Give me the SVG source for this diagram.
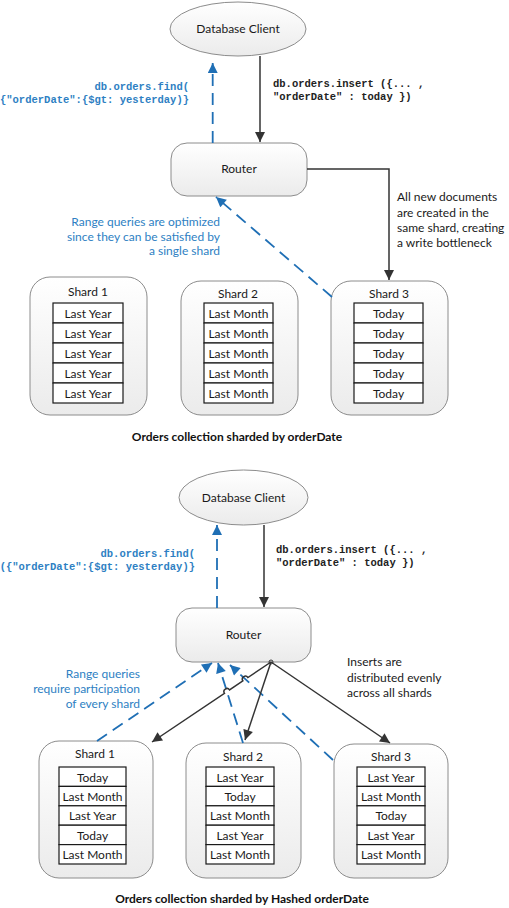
<svg xmlns="http://www.w3.org/2000/svg" width="509" height="908" viewBox="0 0 509 908">
<defs>
  <linearGradient id="g" x1="0" y1="0" x2="0" y2="1">
    <stop offset="0" stop-color="#ffffff"/>
    <stop offset="1" stop-color="#ebebeb"/>
  </linearGradient>
  <marker id="ab" viewBox="0 0 10 10" refX="10" refY="5" markerWidth="11" markerHeight="10" markerUnits="userSpaceOnUse" orient="auto">
    <path d="M0,0 L10,5 L0,10 Z" fill="#333"/>
  </marker>
  <marker id="au" viewBox="0 0 10 10" refX="10" refY="5" markerWidth="11" markerHeight="10" markerUnits="userSpaceOnUse" orient="auto">
    <path d="M0,0 L10,5 L0,10 Z" fill="#1f6fb5"/>
  </marker>
</defs>
<style>
  .node { fill: url(#g); stroke: #8c8c8c; stroke-width: 1; }
  .cell { fill: #fff; stroke: #1a1a1a; stroke-width: 1.2; }
  .t { font-family: Lato, "Liberation Sans", sans-serif; font-size: 12px; fill: #1a1a1a; }
  .c { text-anchor: middle; }
  .note { font-family: Lato, "Liberation Sans", sans-serif; font-size: 12px; fill: #1a1a1a; }
  .bnote { font-family: Lato, "Liberation Sans", sans-serif; font-size: 12px; fill: #2e7fc3; text-anchor: end; }
  .code { font-family: "Liberation Mono", monospace; font-size: 10.5px; font-weight: bold; fill: #222; }
  .bcode { font-family: "Liberation Mono", monospace; font-size: 10.5px; font-weight: bold; fill: #2e7fc3; text-anchor: end; }
  .title { font-family: Lato, "Liberation Sans", sans-serif; font-size: 12px; font-weight: bold; fill: #111; text-anchor: middle; }
  .blk { fill: none; stroke: #333; stroke-width: 1.5; marker-end: url(#ab); }
  .blu { fill: none; stroke: #1f6fb5; stroke-width: 1.8; stroke-dasharray: 12 7; marker-end: url(#au); }
</style>

<!-- ===== Top diagram ===== -->
<g id="client1">
  <ellipse class="node" cx="238" cy="29" rx="68" ry="27"/>
  <text class="t c" x="238" y="33">Database Client</text>
</g>
<g id="router1">
  <rect class="node" x="171" y="143" width="136" height="53" rx="16"/>
  <text class="t c" x="239" y="173">Router</text>
</g>
<g id="shard1a">
  <rect class="node" x="30" y="277" width="117" height="138" rx="20"/>
  <text class="t c" x="88" y="296">Shard 1</text>
  <rect class="cell" x="53" y="303" width="70" height="20"/>
  <rect class="cell" x="53" y="323" width="70" height="20"/>
  <rect class="cell" x="53" y="343" width="70" height="20"/>
  <rect class="cell" x="53" y="363" width="70" height="20"/>
  <rect class="cell" x="53" y="383" width="70" height="20"/>
  <text class="t c" x="88" y="318">Last Year</text>
  <text class="t c" x="88" y="338">Last Year</text>
  <text class="t c" x="88" y="358">Last Year</text>
  <text class="t c" x="88" y="378">Last Year</text>
  <text class="t c" x="88" y="398">Last Year</text>
</g>
<g id="shard2a">
  <rect class="node" x="181" y="281" width="117" height="134" rx="20"/>
  <text class="t c" x="238" y="298">Shard 2</text>
  <rect class="cell" x="204" y="303" width="69" height="20"/>
  <rect class="cell" x="204" y="323" width="69" height="20"/>
  <rect class="cell" x="204" y="343" width="69" height="20"/>
  <rect class="cell" x="204" y="363" width="69" height="20"/>
  <rect class="cell" x="204" y="383" width="69" height="20"/>
  <text class="t c" x="238.5" y="318">Last Month</text>
  <text class="t c" x="238.5" y="338">Last Month</text>
  <text class="t c" x="238.5" y="358">Last Month</text>
  <text class="t c" x="238.5" y="378">Last Month</text>
  <text class="t c" x="238.5" y="398">Last Month</text>
</g>
<g id="shard3a">
  <rect class="node" x="331" y="281" width="117" height="134" rx="20"/>
  <text class="t c" x="389" y="298">Shard 3</text>
  <rect class="cell" x="354" y="303" width="69" height="20"/>
  <rect class="cell" x="354" y="323" width="69" height="20"/>
  <rect class="cell" x="354" y="343" width="69" height="20"/>
  <rect class="cell" x="354" y="363" width="69" height="20"/>
  <rect class="cell" x="354" y="383" width="69" height="20"/>
  <text class="t c" x="388.5" y="318">Today</text>
  <text class="t c" x="388.5" y="338">Today</text>
  <text class="t c" x="388.5" y="358">Today</text>
  <text class="t c" x="388.5" y="378">Today</text>
  <text class="t c" x="388.5" y="398">Today</text>
</g>

<g id="connectors1">
  <path class="blu" d="M212.7,143 V63"/>
  <path class="blk" d="M260,56 V142"/>
  <path class="blk" d="M307,169 H389 V280"/>
  <path class="blu" d="M332,297 L216,197"/>
</g>

<g id="labels1">
  <text class="bcode" x="189" y="90">db.orders.find(</text>
  <text class="bcode" x="189" y="103">{"orderDate":{$gt: yesterday)}</text>
  <text class="code" x="273" y="87">db.orders.insert ({... ,</text>
  <text class="code" x="273" y="100">"orderDate" : today })</text>
  <text class="bnote" x="220" y="226">Range queries are optimized</text>
  <text class="bnote" x="220" y="241">since they can be satisfied by</text>
  <text class="bnote" x="220" y="255">a single shard</text>
  <text class="note" x="397" y="201">All new documents</text>
  <text class="note" x="397" y="217">are created in the</text>
  <text class="note" x="397" y="232">same shard, creating</text>
  <text class="note" x="397" y="247">a write bottleneck</text>
  <text class="title" x="237" y="441">Orders collection sharded by orderDate</text>
</g>

<!-- ===== Bottom diagram ===== -->
<g id="client2">
  <ellipse class="node" cx="243.5" cy="497.5" rx="64.5" ry="27.5"/>
  <text class="t c" x="243.5" y="501.5">Database Client</text>
</g>
<g id="router2">
  <rect class="node" x="176" y="608" width="135" height="54" rx="16"/>
  <text class="t c" x="243.5" y="639">Router</text>
</g>
<g id="shard1b">
  <rect class="node" x="39" y="741" width="114" height="137" rx="20"/>
  <text class="t c" x="95" y="758">Shard 1</text>
  <rect class="cell" x="59" y="767" width="67" height="19.4"/>
  <rect class="cell" x="59" y="786.4" width="67" height="19.4"/>
  <rect class="cell" x="59" y="805.8" width="67" height="19.4"/>
  <rect class="cell" x="59" y="825.2" width="67" height="19.4"/>
  <rect class="cell" x="59" y="844.6" width="67" height="19.4"/>
  <text class="t c" x="92.5" y="781.5">Today</text>
  <text class="t c" x="92.5" y="800.9">Last Month</text>
  <text class="t c" x="92.5" y="820.3">Last Year</text>
  <text class="t c" x="92.5" y="839.7">Today</text>
  <text class="t c" x="92.5" y="859.1">Last Month</text>
</g>
<g id="shard2b">
  <rect class="node" x="186" y="743" width="115" height="135" rx="20"/>
  <text class="t c" x="243" y="761">Shard 2</text>
  <rect class="cell" x="206" y="767" width="68" height="19.4"/>
  <rect class="cell" x="206" y="786.4" width="68" height="19.4"/>
  <rect class="cell" x="206" y="805.8" width="68" height="19.4"/>
  <rect class="cell" x="206" y="825.2" width="68" height="19.4"/>
  <rect class="cell" x="206" y="844.6" width="68" height="19.4"/>
  <text class="t c" x="240" y="781.5">Last Year</text>
  <text class="t c" x="240" y="800.9">Today</text>
  <text class="t c" x="240" y="820.3">Last Month</text>
  <text class="t c" x="240" y="839.7">Last Year</text>
  <text class="t c" x="240" y="859.1">Last Month</text>
</g>
<g id="shard3b">
  <rect class="node" x="334" y="744" width="114" height="134" rx="20"/>
  <text class="t c" x="391" y="761">Shard 3</text>
  <rect class="cell" x="357" y="767" width="68" height="19.4"/>
  <rect class="cell" x="357" y="786.4" width="68" height="19.4"/>
  <rect class="cell" x="357" y="805.8" width="68" height="19.4"/>
  <rect class="cell" x="357" y="825.2" width="68" height="19.4"/>
  <rect class="cell" x="357" y="844.6" width="68" height="19.4"/>
  <text class="t c" x="391" y="781.5">Last Year</text>
  <text class="t c" x="391" y="800.9">Last Month</text>
  <text class="t c" x="391" y="820.3">Today</text>
  <text class="t c" x="391" y="839.7">Last Year</text>
  <text class="t c" x="391" y="859.1">Last Month</text>
</g>

<g id="connectors2">
  <path class="blu" d="M217,608 V525"/>
  <path class="blk" d="M264,525 V607"/>
  <path class="blu" d="M97,741 L212,663"/>
  <path class="blu" d="M243,743 L218,663"/>
  <path class="blu" d="M333,760 L230,665"/>
  <path class="blk" d="M271,662 L247.9,677.5 A3,3 0 0 0 242.9,680.9 L229.5,689.9 A3,3 0 0 0 224.5,693.3 L152,742"/>
  <path class="blk" d="M271,662 L245,740"/>
  <path class="blk" d="M271,662 L390,743"/>
  <circle cx="271" cy="662" r="2" fill="none" stroke="#333" stroke-width="1"/>
</g>

<g id="labels2">
  <text class="bcode" x="195" y="557">db.orders.find(</text>
  <text class="bcode" x="195" y="570">({"orderDate":{$gt: yesterday)}</text>
  <text class="code" x="276" y="553">db.orders.insert ({... ,</text>
  <text class="code" x="276" y="566">"orderDate" : today })</text>
  <text class="bnote" x="140" y="678">Range queries</text>
  <text class="bnote" x="140" y="693">require participation</text>
  <text class="bnote" x="140" y="708">of every shard</text>
  <text class="note" x="347" y="666">Inserts are</text>
  <text class="note" x="347" y="682">distributed evenly</text>
  <text class="note" x="347" y="697">across all shards</text>
  <text class="title" x="242" y="903">Orders collection sharded by Hashed orderDate</text>
</g>
</svg>
